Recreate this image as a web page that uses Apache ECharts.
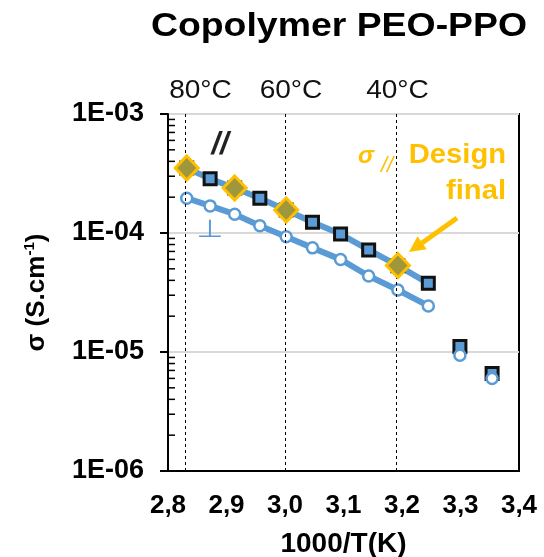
<!DOCTYPE html>
<html><head><meta charset="utf-8">
<script src="https://cdn.jsdelivr.net/npm/echarts@6/dist/echarts.min.js"></script>
<style>html,body{margin:0;padding:0;background:#fff}#c{width:544px;height:557px}</style>
</head><body><div id="c"></div>
<script>
// ---- data ----
const invT = [2.832, 2.872, 2.914, 2.957, 3.002, 3.047, 3.095, 3.143, 3.193, 3.245, 3.299, 3.354];
const sigmaPar = [3.52e-4, 2.85e-4, 2.39e-4, 1.96e-4, 1.56e-4, 1.23e-4, 9.8e-5, 7.2e-5, 5.31e-5, 3.78e-5, 1.11e-5, 6.6e-6];
const sigmaPerp = [1.96e-4, 1.69e-4, 1.44e-4, 1.15e-4, 9.3e-5, 7.5e-5, 6.0e-5, 4.35e-5, 3.32e-5, 2.44e-5, 9.4e-6, 6.0e-6];
const designX = [2.832, 2.914, 3.002, 3.193];
const designY = [3.52e-4, 2.39e-4, 1.56e-4, 5.33e-5];
const fitCount = 10;
const tempLines = [2.832, 3.002, 3.193];
const tempLabels = ['80°C', '60°C', '40°C'];
const xTickLabels = ['2,8', '2,9', '3,0', '3,1', '3,2', '3,3', '3,4'];
const yTickValues = [1e-6, 1e-5, 1e-4, 1e-3];
const yTickLabels = ['1E-06', '1E-05', '1E-04', '1E-03'];
const yMinorTicks = [2e-6, 3e-6, 4e-6, 5e-6, 6e-6, 7e-6, 8e-6, 9e-6,
                     2e-5, 3e-5, 4e-5, 5e-5, 6e-5, 7e-5, 8e-5, 9e-5,
                     2e-4, 3e-4, 4e-4, 5e-4, 6e-4, 7e-4, 8e-4, 9e-4];

const FONT = 'Liberation Sans, Arial, Helvetica, sans-serif';
const BLUE = '#5B9BD5', GOLD = '#FFC000';
const X_MIN = 2.8, X_MAX = 3.4;

const pairs = (xs, ys, n) => xs.slice(0, n).map((x, i) => [x, ys[i]]);

function txt(text, x, y, font, fill, align, sx, sy) {
  return {type: 'text', x: x, y: y, z: 10, scaleX: sx || 1, scaleY: sy || 1,
    style: {text: text, font: font, fill: fill, textAlign: align || 'center', textVerticalAlign: 'middle'}};
}

const chart = echarts.init(document.getElementById('c'), null, {renderer: 'canvas'});
chart.setOption({
  animation: false,
  backgroundColor: '#fff',
  textStyle: {fontFamily: FONT},
  grid: {left: 168, right: 25, top: 114, bottom: 86, outerBoundsMode: 'none', containLabel: false,
    show: true, borderColor: '#000', borderWidth: 2, backgroundColor: 'transparent'},
  xAxis: {
    type: 'value', min: X_MIN, max: X_MAX, interval: 0.1,
    axisLine: {lineStyle: {color: '#000', width: 2}},
    axisTick: {show: false}, splitLine: {show: false},
    axisLabel: {fontSize: 26, fontWeight: 'bold', color: '#000', fontFamily: FONT, margin: 22,
      showMinLabel: true, showMaxLabel: true,
      formatter: (v) => xTickLabels[Math.round((v - X_MIN) / 0.1)]},
    name: '1000/T(K)', nameLocation: 'middle', nameGap: 59,
    nameTextStyle: {fontSize: 28, fontWeight: 'bold', color: '#000', fontFamily: FONT}
  },
  yAxis: {
    type: 'log', logBase: 10, min: 1e-6, max: 1e-3, interval: 1,
    axisLine: {show: true, lineStyle: {color: '#000', width: 2}},
    axisTick: {show: true, length: 8, lineStyle: {color: '#000', width: 2}},
    splitLine: {show: true, lineStyle: {color: '#d9d9d9', width: 2}},
    axisLabel: {fontSize: 27, fontWeight: 'bold', color: '#000', fontFamily: FONT, margin: 24,
      formatter: (v) => {
        let best = 0;
        yTickValues.forEach((t, i) => { if (Math.abs(Math.log10(t / v)) < Math.abs(Math.log10(yTickValues[best] / v))) best = i; });
        return yTickLabels[best];
      }},
    name: '{b|σ (S.cm}{s|-1}{b|)}', nameLocation: 'middle', nameGap: 116, nameRotate: 90,
    nameTextStyle: {fontFamily: FONT, rich: {
      b: {fontSize: 26, fontWeight: 'bold', color: '#000', fontFamily: FONT, lineHeight: 30},
      s: {fontSize: 15, fontWeight: 'bold', color: '#000', fontFamily: FONT, verticalAlign: 'top', lineHeight: 30, padding: [0, 0, 10, 0]}
    }}
  },
  series: [
    {type: 'line', data: pairs(invT, sigmaPar, fitCount), showSymbol: false, symbol: 'none',
      lineStyle: {color: BLUE, width: 6}, z: 1, silent: true},
    {type: 'line', data: pairs(invT, sigmaPerp, fitCount), showSymbol: false, symbol: 'none',
      lineStyle: {color: BLUE, width: 6}, z: 1, silent: true},
    {type: 'scatter', data: pairs(invT, sigmaPar, invT.length), symbol: 'rect', symbolSize: 12,
      itemStyle: {color: BLUE, borderColor: '#111', borderWidth: 3, opacity: 1}, z: 2},
    {type: 'scatter', data: pairs(invT, sigmaPerp, invT.length), symbol: 'circle', symbolSize: 11,
      itemStyle: {color: '#fff', borderColor: BLUE, borderWidth: 2.5, opacity: 1}, z: 3},
    {type: 'line', data: [], z: 4,
      markLine: {silent: true, symbol: 'none', label: {show: false},
        lineStyle: {color: '#000', width: 1, type: [3, 3]},
        data: tempLines.map(x => ({xAxis: x}))}},
    {type: 'scatter', data: pairs(designX, designY, designX.length), symbol: 'diamond', symbolSize: [23, 24],
      itemStyle: {color: '#A0963C', borderColor: GOLD, borderWidth: 3, opacity: 1}, z: 5}
  ]
});

// minor log ticks (inside the plot), positioned through the axis scales
const axisX = chart.convertToPixel({xAxisIndex: 0}, X_MIN);
const minorElems = yMinorTicks.map((v) => {
  const py = chart.convertToPixel({yAxisIndex: 0}, v);
  return {type: 'line', z: 20, silent: true,
    shape: {x1: axisX, y1: py, x2: axisX + 7, y2: py}, style: {stroke: '#000', lineWidth: 1.5}};
});

const annotations = [
  txt('Copolymer PEO-PPO', 339, 27, 'bold 34px ' + FONT, '#000', 'center', 1.1),
  txt(tempLabels[0], 200.5, 91, '26px ' + FONT, '#111', 'center', 1.08),
  txt(tempLabels[1], 291, 91, '26px ' + FONT, '#111', 'center', 1.08),
  txt(tempLabels[2], 397.5, 91, '26px ' + FONT, '#111', 'center', 1.08),
  txt('//', 220, 145, 'italic bold 31px ' + FONT, '#222'),
  txt('⊥', 210, 231, '31px DejaVu Sans', BLUE, 'center', 1, 0.8),
  txt('σ', 366, 156, 'italic bold 24px ' + FONT, GOLD),
  txt('//', 387, 166, 'italic 22px ' + FONT, GOLD),
  txt('Design', 506, 156, 'bold 27px ' + FONT, GOLD, 'right', 1.08),
  txt('final', 506, 192, 'bold 27px ' + FONT, GOLD, 'right', 1.08),
  {type: 'line', z: 10, shape: {x1: 457, y1: 218, x2: 422, y2: 243}, style: {stroke: GOLD, lineWidth: 5}},
  {type: 'polygon', z: 10, shape: {points: [[409, 252], [426.7, 249.3], [417.5, 236.2]]}, style: {fill: GOLD}}
];

chart.setOption({graphic: annotations.concat(minorElems)});
</script></body></html>
